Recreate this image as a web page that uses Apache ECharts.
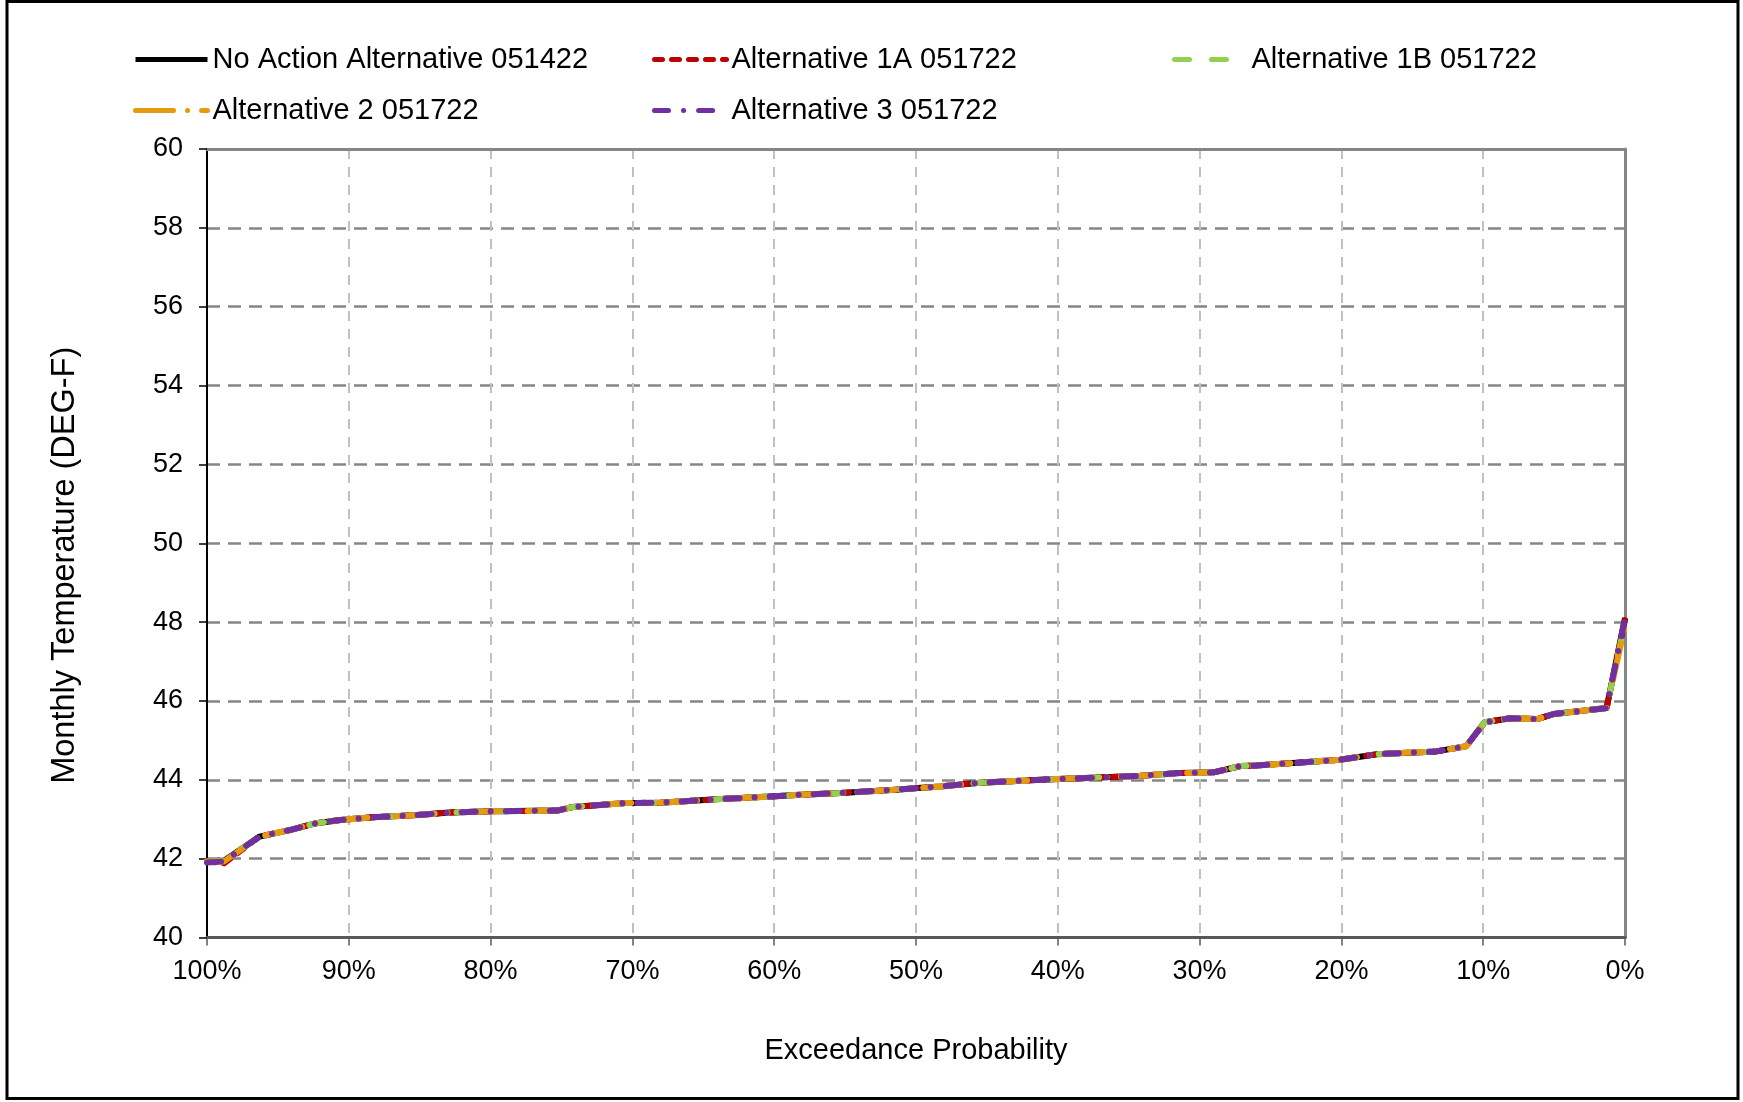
<!DOCTYPE html>
<html><head><meta charset="utf-8">
<script src="https://cdn.jsdelivr.net/npm/echarts@6/dist/echarts.min.js"></script>
<style>html,body{margin:0;padding:0;background:#fff}#c{width:1743px;height:1102px}</style>
</head><body><div id="c"></div>
<script>
// Exceedance probability (%) for each sorted value
const exceedance = [100, 98.8, 96.3, 94.1, 92.3, 90.6, 88.3, 85.4, 82.9, 80.0, 75.3, 74.2, 70.5, 68.0, 63.8, 60.0, 58.2, 55.6, 51.4, 49.9, 48.3, 45.7, 40.8, 38.4, 34.2, 31.4, 29.0, 27.1, 26.0, 20.1, 17.5, 13.3, 11.2, 9.9, 8.1, 6.2, 5.0, 1.3, 0];
// Monthly temperature (DEG-F)
const noAction = [41.93, 41.95, 42.56, 42.73, 42.90, 42.98, 43.05, 43.10, 43.17, 43.20, 43.22, 43.31, 43.41, 43.42, 43.51, 43.58, 43.62, 43.66, 43.75, 43.79, 43.83, 43.92, 44.01, 44.04, 44.10, 44.17, 44.19, 44.35, 44.36, 44.51, 44.65, 44.72, 44.85, 45.46, 45.56, 45.54, 45.67, 45.82, 48.10];
const alt1A    = [41.93, 41.88, 42.56, 42.73, 42.90, 42.98, 43.05, 43.10, 43.17, 43.20, 43.22, 43.31, 43.41, 43.42, 43.51, 43.58, 43.62, 43.66, 43.75, 43.79, 43.83, 43.92, 44.01, 44.04, 44.10, 44.17, 44.19, 44.35, 44.36, 44.51, 44.65, 44.72, 44.85, 45.46, 45.56, 45.54, 45.67, 45.82, 48.05];
const alt1B    = [41.93, 41.95, 42.56, 42.73, 42.90, 42.98, 43.05, 43.10, 43.17, 43.20, 43.22, 43.31, 43.41, 43.42, 43.51, 43.58, 43.62, 43.66, 43.75, 43.79, 43.83, 43.92, 44.01, 44.04, 44.10, 44.17, 44.19, 44.35, 44.36, 44.51, 44.65, 44.72, 44.85, 45.46, 45.56, 45.54, 45.67, 45.82, 48.00];
const alt2     = [41.93, 41.93, 42.56, 42.73, 42.90, 42.98, 43.05, 43.10, 43.17, 43.20, 43.22, 43.31, 43.41, 43.42, 43.51, 43.58, 43.62, 43.66, 43.75, 43.79, 43.83, 43.92, 44.01, 44.04, 44.10, 44.17, 44.19, 44.35, 44.36, 44.51, 44.65, 44.72, 44.85, 45.46, 45.56, 45.54, 45.67, 45.82, 47.90];
const alt3     = [41.90, 41.93, 42.56, 42.73, 42.90, 42.98, 43.05, 43.10, 43.17, 43.20, 43.22, 43.31, 43.41, 43.42, 43.51, 43.58, 43.62, 43.66, 43.75, 43.79, 43.83, 43.92, 44.01, 44.04, 44.10, 44.17, 44.19, 44.35, 44.36, 44.51, 44.65, 44.72, 44.85, 45.46, 45.56, 45.54, 45.67, 45.82, 48.10];

const seriesNames = ['No Action Alternative 051422', 'Alternative 1A 051722', 'Alternative 1B 051722', 'Alternative 2 051722', 'Alternative 3 051722'];
const seriesValues = [noAction, alt1A, alt1B, alt2, alt3];
const seriesColors = ['#000000', '#C00000', '#92D050', '#E69B0E', '#7030A0'];
const seriesDash = ['solid', [8, 9], [15, 22], [38, 14, 0.1, 14], [14, 15, 0.1, 15]];
const yTicks = {min: 40, max: 60, interval: 2};
const xTicks = {min: 0, max: 100, interval: 10};

const FONT = "'Liberation Sans', Arial, sans-serif";
const chart = echarts.init(document.getElementById('c'), null, {renderer: 'canvas'});

const legendPos = [[128, 40], [647, 40], [1167, 40], [128, 91], [647, 91]];

const option = {
  animation: false,
  backgroundColor: '#ffffff',
  textStyle: {fontFamily: FONT, color: '#000'},
  graphic: [{
    type: 'rect', shape: {x: 7, y: 1.5, width: 1731, height: 1097},
    style: {fill: 'none', stroke: '#000', lineWidth: 3}, z: 100, silent: true
  }],
  legend: seriesNames.map((n, i) => ({
    data: [n], left: legendPos[i][0], top: legendPos[i][1],
    itemWidth: 72, itemHeight: 14, itemGap: 0,
    itemStyle: {opacity: 0, color: 'transparent', borderWidth: 0},
    lineStyle: {width: 5},
    textStyle: {fontFamily: FONT, fontSize: 29, color: '#000'},
    selectedMode: false
  })),
  grid: {left: 207, right: 118, top: 149, bottom: 164.5, containLabel: false},
  xAxis: [{
    type: 'value', inverse: true, min: xTicks.min, max: xTicks.max, interval: xTicks.interval,
    name: 'Exceedance Probability', nameLocation: 'middle', nameGap: 99,
    nameTextStyle: {fontFamily: FONT, fontSize: 29, color: '#000'},
    axisLine: {show: true, onZero: false, lineStyle: {color: '#595959', width: 3}},
    axisTick: {show: true, length: 8, lineStyle: {color: '#595959', width: 1.5}},
    axisLabel: {formatter: '{value}%', fontFamily: FONT, fontSize: 27, color: '#000', margin: 21},
    splitLine: {show: true, lineStyle: {color: '#C0C0C0', width: 2, type: [10, 8]}}
  }, {
    type: 'value', position: 'top', inverse: true, min: xTicks.min, max: xTicks.max, interval: xTicks.interval,
    axisLine: {show: true, onZero: false, lineStyle: {color: '#868686', width: 3}},
    axisTick: {show: false}, axisLabel: {show: false}, splitLine: {show: false}
  }],
  yAxis: [{
    type: 'value', min: yTicks.min, max: yTicks.max, interval: yTicks.interval,
    name: 'Monthly Temperature (DEG-F)', nameLocation: 'middle', nameGap: 125,
    nameTextStyle: {fontFamily: FONT, fontSize: 32.5, color: '#000', padding: [0, 44, 0, 0]},
    axisLine: {show: true, onZero: false, lineStyle: {color: '#000', width: 2}},
    axisTick: {show: true, length: 8, lineStyle: {color: '#000', width: 1.5}},
    axisLabel: {fontFamily: FONT, fontSize: 27, color: '#000', margin: 24},
    splitLine: {show: true, lineStyle: {color: '#868686', width: 2.5, type: [13, 8]}}
  }, {
    type: 'value', position: 'right', min: yTicks.min, max: yTicks.max, interval: yTicks.interval,
    axisLine: {show: true, onZero: false, lineStyle: {color: '#868686', width: 3}},
    axisTick: {show: false}, axisLabel: {show: false}, splitLine: {show: false}
  }],
  series: seriesNames.map((n, i) => ({
    name: n, type: 'line', symbol: 'none', smooth: false,
    xAxisIndex: 0, yAxisIndex: 0,
    data: exceedance.map((p, k) => [p, seriesValues[i][k]]),
    lineStyle: {color: seriesColors[i], width: 6, type: seriesDash[i], cap: i === 0 ? 'butt' : 'round', join: 'round'},
    itemStyle: {color: seriesColors[i]},
    z: 2 + i
  }))
};
chart.setOption(option);
</script>
</body></html>
